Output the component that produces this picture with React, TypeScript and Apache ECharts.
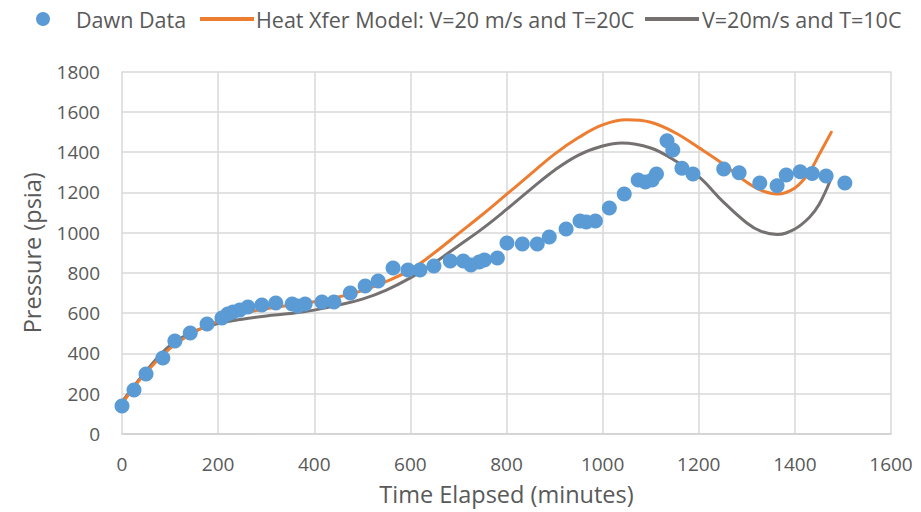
import React, { useEffect, useRef } from "react";
import * as echarts from "echarts";

const dawnData: [number, number][] = [
  [0, 139], [25, 218], [50, 298], [85, 377], [110, 462], [142, 501], [177, 546],
  [208, 576], [220, 596], [231, 606], [245, 616], [262, 631], [291, 640], [320, 650],
  [354, 645], [366, 636], [381, 645], [416, 655], [441, 655], [475, 700], [506, 735],
  [533, 760], [564, 824], [595, 814], [620, 814], [649, 834], [683, 859], [710, 859],
  [726, 839], [743, 854], [754, 864], [781, 874], [801, 948], [833, 943], [864, 943],
  [889, 978], [924, 1018], [953, 1058], [966, 1053], [985, 1058], [1014, 1122],
  [1045, 1192], [1074, 1261], [1089, 1251], [1103, 1261], [1112, 1291], [1134, 1456],
  [1146, 1410], [1165, 1319], [1188, 1291], [1252, 1316], [1284, 1297], [1327, 1246],
  [1363, 1233], [1382, 1286], [1411, 1302], [1436, 1294], [1465, 1281], [1504, 1246],
];

const model20C: [number, number][] = [
  [0, 150], [25, 232], [50, 305], [100, 425], [150, 505], [200, 560], [250, 598],
  [300, 622], [350, 640], [400, 657], [450, 680], [500, 712], [550, 758], [600, 815],
  [650, 900], [700, 995], [750, 1090], [800, 1190], [850, 1290], [900, 1390],
  [950, 1472], [1000, 1535], [1050, 1560], [1100, 1548], [1150, 1497], [1200, 1422],
  [1250, 1342], [1300, 1250], [1330, 1210], [1363, 1192], [1400, 1222],
  [1430, 1300], [1450, 1385], [1477, 1504],
];

const model10C: [number, number][] = [
  [0, 160], [50, 312], [100, 440], [150, 510], [200, 548], [250, 570], [300, 586],
  [350, 598], [400, 615], [450, 640], [500, 670], [550, 715], [600, 775], [650, 850],
  [700, 935], [750, 1020], [800, 1115], [850, 1215], [900, 1310], [950, 1385],
  [1000, 1430], [1040, 1445], [1100, 1420], [1150, 1358], [1200, 1278], [1250, 1155],
  [1300, 1048], [1330, 1006], [1363, 991], [1400, 1018], [1430, 1075],
  [1450, 1138], [1474, 1261],
];

const seriesNames = [
  "Dawn Data",
  "Heat Xfer Model: V=20 m/s and T=20C",
  "V=20m/s and T=10C",
];

const FONT = "'Open Sans', sans-serif";
const TEXT = "#595959";

export default function App() {
  const ref = useRef<HTMLDivElement>(null);
  useEffect(() => {
    if (!ref.current) return;
    const chart = echarts.init(ref.current, null, { renderer: "svg" });
    const legendText = { color: TEXT, fontSize: 21.5, fontFamily: FONT };
    chart.setOption({
      animation: false,
      backgroundColor: "#ffffff",
      textStyle: { fontFamily: FONT },
      legend: [
        {
          data: [seriesNames[0]],
          left: 31, top: 3, icon: "circle", itemWidth: 14, itemHeight: 14,
          textStyle: { ...legendText, padding: [0, 0, 0, 21] },
        },
        {
          data: [seriesNames[1]],
          left: 195, top: 3, icon: "rect", itemWidth: 54, itemHeight: 4,
          textStyle: { ...legendText, padding: [0, 0, 0, -3] },
        },
        {
          data: [seriesNames[2]],
          left: 640, top: 3, icon: "rect", itemWidth: 54, itemHeight: 4,
          textStyle: { ...legendText, padding: [0, 0, 0, -2] },
        },
      ],
      grid: { left: 122, right: 30, top: 71.5, bottom: 78, containLabel: false },
      xAxis: {
        type: "value", min: 0, max: 1600, interval: 200,
        name: "Time Elapsed (minutes)", nameLocation: "middle", nameGap: 48,
        nameTextStyle: { color: TEXT, fontSize: 23.5, fontFamily: FONT },
        axisLine: { show: true, lineStyle: { color: "#D0D0D0", width: 1.5 } },
        axisTick: { show: false },
        axisLabel: { color: TEXT, fontSize: 19, fontFamily: FONT, margin: 20, formatter: (v: number) => String(v) },
        splitLine: { show: true, lineStyle: { color: "#D9D9D9", width: 1.5 } },
      },
      yAxis: {
        type: "value", min: 0, max: 1800, interval: 200,
        name: "Pressure (psia)", nameLocation: "middle", nameGap: 78,
        nameTextStyle: { color: TEXT, fontSize: 23.5, fontFamily: FONT },
        axisLine: { show: false },
        axisTick: { show: false },
        axisLabel: { color: TEXT, fontSize: 19, fontFamily: FONT, margin: 22, formatter: (v: number) => String(v) },
        splitLine: { show: true, lineStyle: { color: "#D9D9D9", width: 1.5 } },
      },
      series: [
        {
          name: seriesNames[0], type: "scatter", data: dawnData,
          symbol: "circle", symbolSize: 15, z: 4,
          itemStyle: { color: "#5B9BD5", opacity: 1 },
        },
        {
          name: seriesNames[1], type: "line", data: model20C, smooth: 0.4,
          showSymbol: false, symbol: "none", z: 3,
          lineStyle: { color: "#ED7D31", width: 3 }, itemStyle: { color: "#ED7D31" },
        },
        {
          name: seriesNames[2], type: "line", data: model10C, smooth: 0.4,
          showSymbol: false, symbol: "none", z: 2,
          lineStyle: { color: "#767171", width: 3 }, itemStyle: { color: "#767171" },
        },
      ],
    });
    return () => chart.dispose();
  }, []);
  return <div ref={ref} style={{ width: 921, height: 512, position: "absolute", left: 0, top: 0 }} />;
}
